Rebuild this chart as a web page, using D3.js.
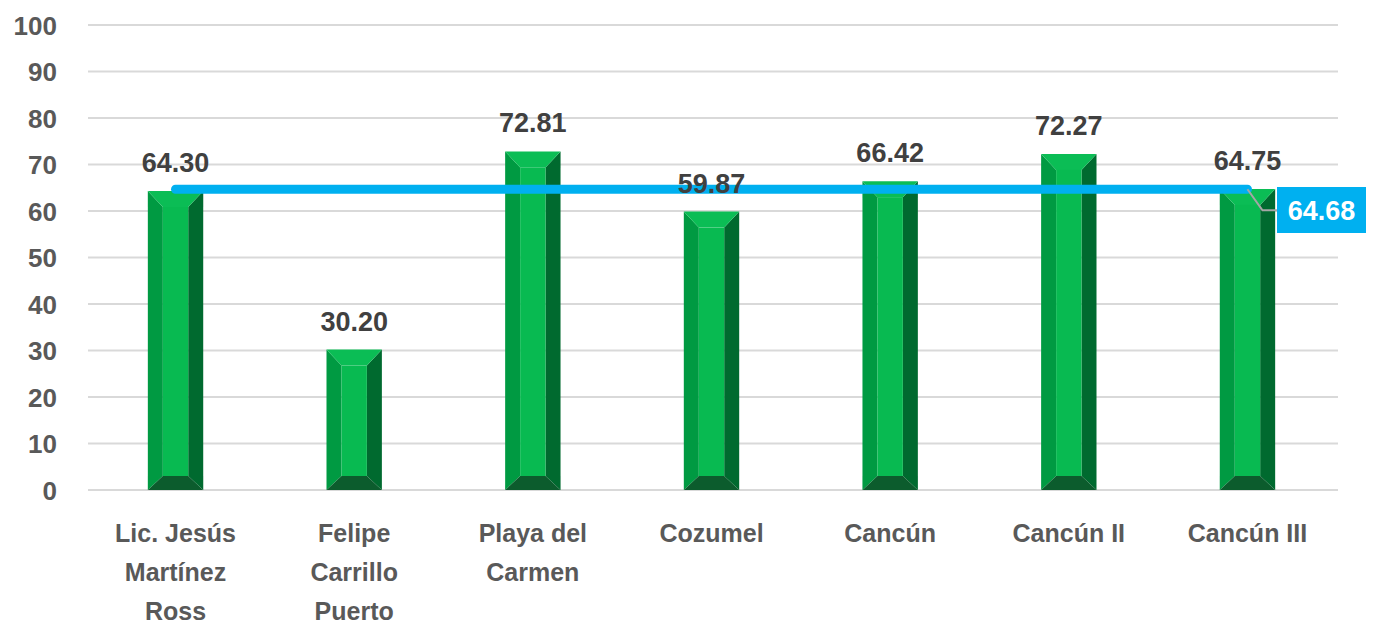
<!DOCTYPE html>
<html><head><meta charset="utf-8">
<script src="https://cdn.jsdelivr.net/npm/d3@7"></script>
<style>body{margin:0;background:#fff}svg{display:block}</style>
</head><body>
<script>
const categories = [["Lic. Jesús","Martínez","Ross"],["Felipe","Carrillo","Puerto"],["Playa del","Carmen"],["Cozumel"],["Cancún"],["Cancún II"],["Cancún III"]];
const values = [64.30, 30.20, 72.81, 59.87, 66.42, 72.27, 64.75];
const average = 64.68;
const yTicks = [0,10,20,30,40,50,60,70,80,90,100];

const W = 1374, H = 624;
const svg = d3.select("body").append("svg").attr("width", W).attr("height", H);
const font = "'Liberation Sans', Arial, sans-serif";

const x = d3.scaleBand().domain(d3.range(categories.length)).range([86.2, 1336.8]).paddingInner(0.69).paddingOuter(0.345);
const y = d3.scaleLinear().domain([0, 100]).range([490, 25]);

// gridlines
svg.append("g").selectAll("line").data(yTicks).join("line")
  .attr("x1", 88).attr("x2", 1338).attr("y1", d => y(d)).attr("y2", d => y(d))
  .attr("stroke", "#d9d9d9").attr("stroke-width", 2);

// y tick labels
svg.append("g").selectAll("text").data(yTicks).join("text")
  .attr("x", 57).attr("y", d => y(d) + 9.5).attr("text-anchor", "end")
  .attr("font-family", font).attr("font-weight", "bold").attr("font-size", 26)
  .attr("fill", "#595959").text(d => d);

// bars with bevel
const bw = x.bandwidth();
const bx = 15, btop = 16, bbot = 14;
const g = svg.append("g").selectAll("g").data(values).join("g");
g.each(function(v, i) {
  const s = d3.select(this);
  const L = x(i), R = L + bw, T = y(v), B = y(0);
  const il = L + bx, ir = R - bx, it = T + btop, ib = B - bbot;
  const poly = (pts, c) => s.append("polygon").attr("points", pts.map(p => p.join(",")).join(" ")).attr("fill", c);
  poly([[L,T],[il,it],[il,ib],[L,B]], "#009a42");
  poly([[R,T],[ir,it],[ir,ib],[R,B]], "#006a2f");
  poly([[L,B],[il,ib],[ir,ib],[R,B]], "#0c5c2d");
  poly([[L,T],[R,T],[ir,it],[il,it]], "#0bbd55");
  s.append("rect").attr("x", il).attr("y", it).attr("width", ir - il).attr("height", ib - it).attr("fill", "#08ba51");
});

// category labels
const cl = svg.append("g").selectAll("text").data(categories).join("text")
  .attr("text-anchor", "middle").attr("font-family", font).attr("font-weight", "bold")
  .attr("font-size", 25).attr("fill", "#595959");
cl.each(function(lines, i) {
  d3.select(this).selectAll("tspan").data(lines).join("tspan")
    .attr("x", x(i) + bw / 2).attr("y", (d, j) => 542 + j * 39).text(d => d);
});

// average line
const c0 = x(0) + bw / 2, c1 = x(categories.length - 1) + bw / 2;
svg.append("line").attr("x1", c0).attr("x2", c1).attr("y1", y(average)).attr("y2", y(average))
  .attr("stroke", "#00b0f0").attr("stroke-width", 9).attr("stroke-linecap", "round");

// data labels (drawn above the line)
svg.append("g").selectAll("text").data(values).join("text")
  .attr("x", (d, i) => x(i) + bw / 2).attr("y", d => y(d) - 19).attr("text-anchor", "middle")
  .attr("font-family", font).attr("font-weight", "bold").attr("font-size", 27)
  .attr("fill", "#404040").text(d => d.toFixed(2));

// leader + label
svg.append("polyline").attr("points", `${c1},${y(average)} ${c1 + 15},${y(average) + 21} ${1277},${y(average) + 21}`)
  .attr("fill", "none").attr("stroke", "#a6a6a6").attr("stroke-width", 2);
svg.append("rect").attr("x", 1277).attr("y", 187).attr("width", 89).attr("height", 46).attr("fill", "#00b0f0");
svg.append("text").attr("x", 1321.5).attr("y", 220).attr("text-anchor", "middle")
  .attr("font-family", font).attr("font-weight", "bold").attr("font-size", 27)
  .attr("fill", "#ffffff").text(average.toFixed(2));
</script>
</body></html>
